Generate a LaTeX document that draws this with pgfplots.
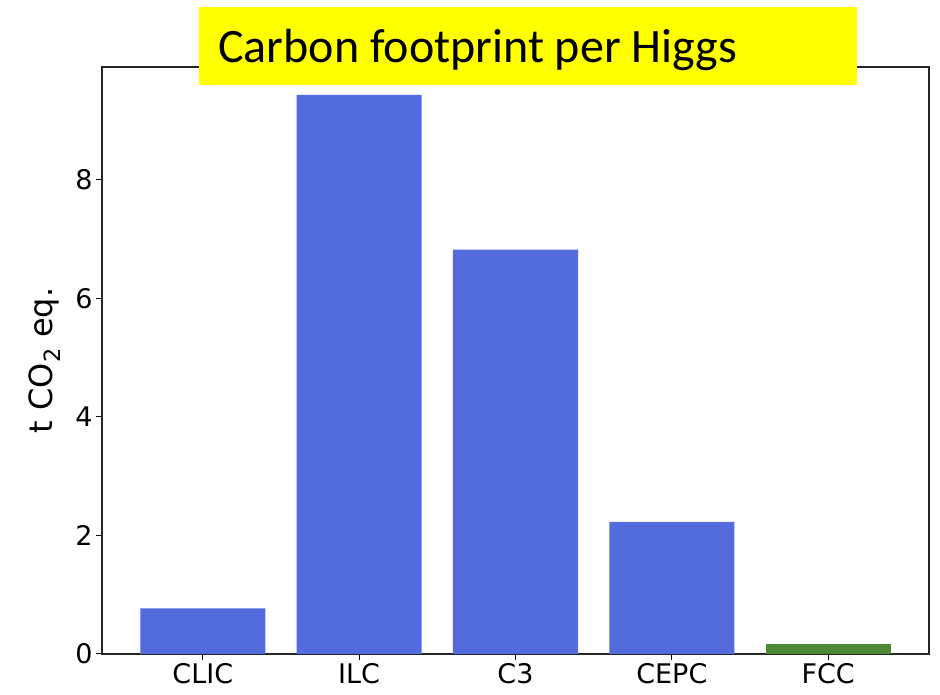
\documentclass[border=0pt]{standalone}
\usepackage{pgfplots}
\pgfplotsset{compat=1.18}
\usepackage{fontspec}
\setmainfont{DejaVu Sans}
\newfontfamily\titlefont{Carlito}
\definecolor{barblue}{RGB}{84,107,221}
\definecolor{bargreen}{RGB}{77,137,50}
\definecolor{ttlyellow}{RGB}{255,255,0}
\begin{document}
\begin{tikzpicture}[x=1pt,y=1pt]
\path[use as bounding box] (0,0) rectangle (940,695);
\begin{axis}[
  at={(102pt,41pt)}, anchor=south west,
  scale only axis, width=827pt, height=587pt,
  xmin=-0.645, xmax=4.645, ymin=0, ymax=9.9,
  xtick={0,1,2,3,4}, xticklabels={CLIC,ILC,C3,CEPC,FCC},
  ytick={0,2,4,6,8},
  tick align=outside, major tick length=6pt,
  xtick pos=bottom, ytick pos=left,
  tick style={black, line width=1pt},
  axis line style={line width=1.2pt, black!85},
  ticklabel style={font=\fontsize{27}{32}\selectfont},
  xticklabel style={inner sep=3pt},
  /pgf/number format/assume math mode=true,
  ylabel={t CO\textsubscript{2} eq.},
  ylabel style={font=\fontsize{32}{36}\selectfont, at={(axis description cs:-0.069,0.5)}, anchor=center},
]
\addplot[ybar, bar width=0.8, bar shift=0pt, fill=barblue, draw=none] coordinates {(0,0.77) (1,9.43) (2,6.82) (3,2.23)};
\addplot[ybar, bar width=0.8, bar shift=0pt, fill=bargreen, draw=none] coordinates {(4,0.17)};
\end{axis}
\fill[ttlyellow] (199,610) rectangle (857,688);
\node[anchor=base west, inner sep=0, font=\titlefont\fontsize{48}{56}\selectfont] at (218,632) {Carbon footprint per Higgs};
\end{tikzpicture}
\end{document}
